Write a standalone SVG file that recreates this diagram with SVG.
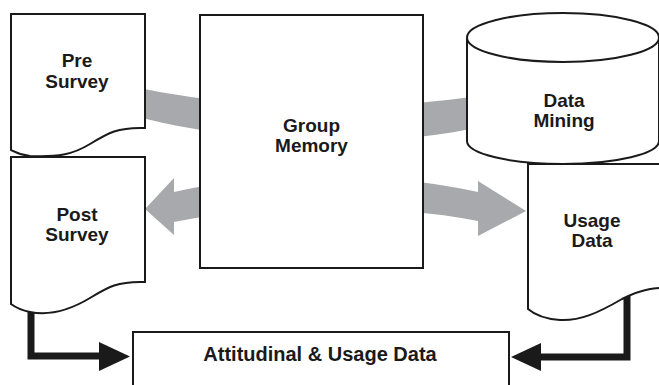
<svg xmlns="http://www.w3.org/2000/svg" width="659" height="385" viewBox="0 0 659 385">
  <style>
    .shape { fill: #ffffff; stroke: #1a1a1a; stroke-width: 2; }
    .label { font-family: "Liberation Sans", Arial, sans-serif; font-weight: bold; font-size: 19px; fill: #1a1a1a; text-anchor: middle; }
    .flow { fill: #a7a9ac; stroke: none; }
    .link { fill: none; stroke: #1a1a1a; stroke-width: 7; }
    .head { fill: #1a1a1a; }
  </style>
  <rect width="659" height="385" fill="#ffffff"/>

  <g id="connectors">
    <!-- wide grey band from Pre Survey behind Group Memory into Data Mining -->
    <path class="flow" d="M130,86 C250,112 380,112 490,94 L490,125 C380,150 250,146 130,115 Z"/>
    <!-- double-headed grey band: Group Memory out to Post Survey and Usage Data -->
    <path class="flow" d="M174,192 C260,172 390,172 478,192 L478,181 L526,211 L478,236 L478,221 C390,204 260,204 174,222 L174,235 L145,209 L174,178 Z"/>
    <!-- Post Survey to Attitudinal & Usage Data -->
    <path class="link" d="M31,300 V356 H104"/>
    <polygon class="head" points="99,342 130,356.5 99,371"/>
    <!-- Usage Data to Attitudinal & Usage Data -->
    <path class="link" d="M627,280 V357 H536"/>
    <polygon class="head" points="541,343 511,357 541,371"/>
  </g>

  <g id="pre-survey">
    <path class="shape" d="M11,14 H145 V128 C118,127 108,133 90,144 C72,155 58,157 30,156 C20,155 15,152 11,150 Z"/>
    <text class="label" x="77" y="67">Pre</text>
    <text class="label" x="77" y="88">Survey</text>
  </g>

  <g id="post-survey">
    <path class="shape" d="M11,157 H145 V282 C118,281 108,287 90,298 C70,310 50,316 30,312 C20,310 15,307 11,304 Z"/>
    <text class="label" x="77" y="221">Post</text>
    <text class="label" x="77" y="241">Survey</text>
  </g>

  <g id="group-memory">
    <rect class="shape" x="200" y="15" width="223" height="253"/>
    <text class="label" x="311.5" y="131.5">Group</text>
    <text class="label" x="311.5" y="151.5">Memory</text>
  </g>

  <g id="usage-data">
    <path class="shape" d="M528,164 H700 V287 C650,286 640,290 622,299 C598,313 580,321 560,320 C545,319 535,315 528,309 Z"/>
    <text class="label" x="592" y="227">Usage</text>
    <text class="label" x="592" y="247">Data</text>
  </g>

  <g id="data-mining">
    <path class="shape" d="M467,38 V141 A96,23 0 0 0 659,141 V38"/>
    <ellipse class="shape" cx="563" cy="37.5" rx="96" ry="24.5"/>
    <text class="label" x="564" y="106.5">Data</text>
    <text class="label" x="564" y="127">Mining</text>
  </g>

  <g id="attitudinal-usage-data">
    <rect class="shape" x="133" y="332" width="376" height="70"/>
    <text class="label" x="320" y="361" style="font-size:20px">Attitudinal &amp; Usage Data</text>
  </g>
</svg>
